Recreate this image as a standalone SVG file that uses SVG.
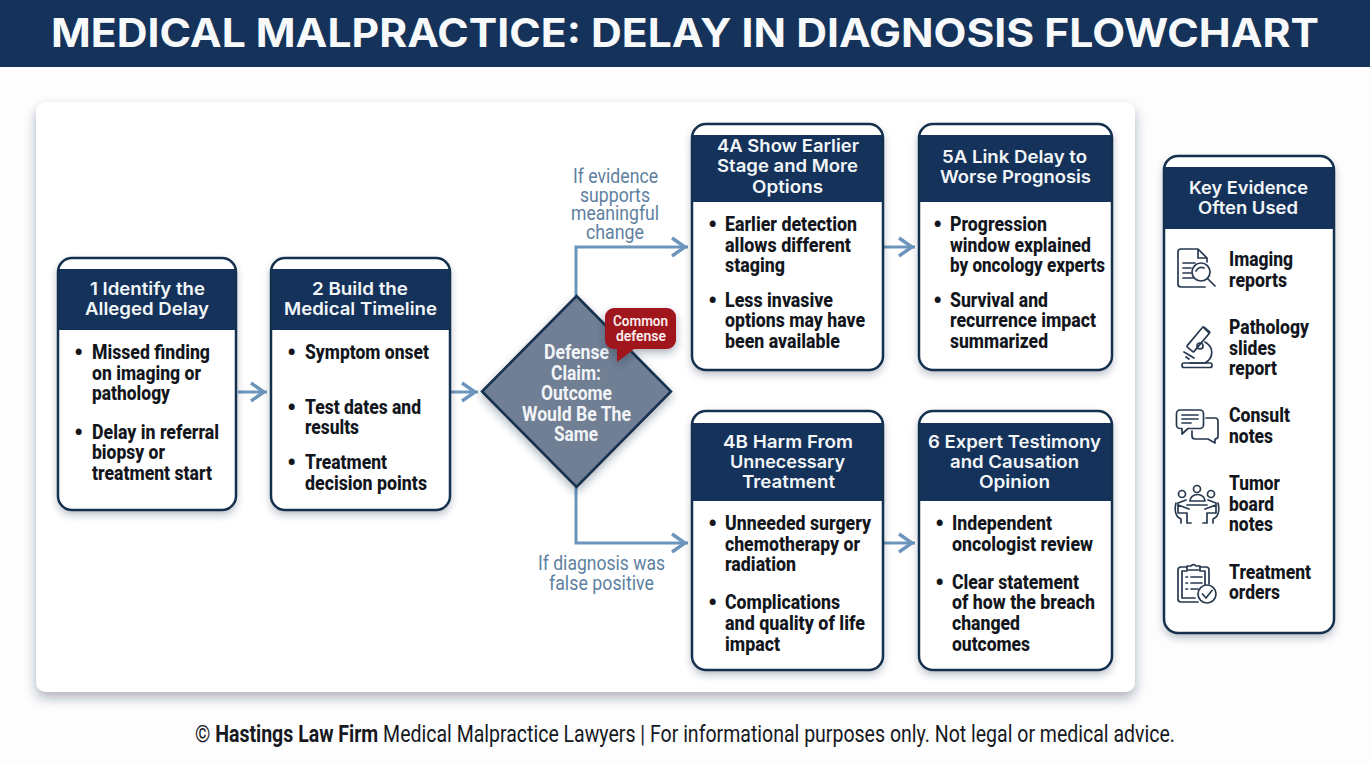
<svg xmlns="http://www.w3.org/2000/svg" width="1370" height="765" viewBox="0 0 1370 765">
<style>
text{font-family:"Roboto","Liberation Sans",sans-serif}
.h{font-family:"Inter","Noto Sans",sans-serif;font-weight:600;font-size:17.5px;fill:#f3f6f9}
.b{font-weight:800;font-size:21px;fill:#12161c}
text.b:not([textLength]){font-size:25px;transform:translate(-1px,2px)}
.d{font-weight:700;font-size:20.5px;fill:#f2f4f7}
.l{font-weight:400;font-size:21px;fill:#5e7f9f}
.c{font-weight:600;font-size:15.5px;fill:#fbecec}
.box{fill:#fff;stroke:none;filter:url(#sh)}
.edge{fill:none;stroke:#14304f;stroke-width:2.5}
.hd{fill:#15335a}
.cn{fill:none;stroke:#6d95bb;stroke-width:3;marker-end:url(#ar)}
.ic{fill:none;stroke:#27394f;stroke-width:1.7;stroke-linecap:round;stroke-linejoin:round}
</style>
<defs>
<filter id="sh" x="-15%" y="-15%" width="130%" height="130%"><feDropShadow dx="0" dy="4" stdDeviation="4" flood-color="#1c2c40" flood-opacity=".35"/></filter>
<filter id="sp" x="-5%" y="-5%" width="110%" height="110%"><feDropShadow dx="0" dy="6" stdDeviation="6" flood-color="#1c2c40" flood-opacity=".35"/></filter>
<marker id="ar" markerUnits="userSpaceOnUse" markerWidth="20" markerHeight="24" viewBox="0 0 20 24" refX="18" refY="12" orient="auto"><path d="M2,3 L15,12 L2,21" fill="none" stroke="#6d95bb" stroke-width="3.4"/></marker>
</defs>
<rect width="1370" height="765" fill="#fdfdfe"/>
<g id="banner"><rect width="1370" height="67" fill="#15335a"/>
<text x="51" y="47" textLength="1268" lengthAdjust="spacingAndGlyphs" style="font-family:Inter,'Noto Sans',sans-serif;font-weight:700;font-size:39px;fill:#f7f9fb">MEDICAL MALPRACTICE: DELAY IN DIAGNOSIS FLOWCHART</text></g>
<rect id="panel" x="36" y="102" width="1099" height="590" rx="10" fill="#fff" filter="url(#sp)"/>

<g id="connectors">
<path class="cn" d="M238,392H267"/>
<path class="cn" d="M451,392H478"/>
<path class="cn" d="M576,296V247H688"/>
<path class="cn" d="M576,487V543H688"/>
<path class="cn" d="M884,247H915"/>
<path class="cn" d="M884,543H915"/>
<text class="l" x="573" y="183" textLength="85" lengthAdjust="spacingAndGlyphs">If evidence</text>
<text class="l" x="580" y="202" textLength="70" lengthAdjust="spacingAndGlyphs">supports</text>
<text class="l" x="571" y="220" textLength="88" lengthAdjust="spacingAndGlyphs">meaningful</text>
<text class="l" x="586" y="239" textLength="58" lengthAdjust="spacingAndGlyphs">change</text>
<text class="l" x="538" y="570" textLength="127" lengthAdjust="spacingAndGlyphs">If diagnosis was</text>
<text class="l" x="549" y="590" textLength="105" lengthAdjust="spacingAndGlyphs">false positive</text>
</g>

<g id="node1"><rect class="box" x="58" y="258" width="178" height="252" rx="14"/><rect class="hd" x="58" y="269" width="178" height="61"/><rect class="edge" x="58" y="258" width="178" height="252" rx="14"/>
<text class="h" x="90" y="294.500" textLength="115" lengthAdjust="spacingAndGlyphs">1 Identify the</text>
<text class="h" x="85" y="315" textLength="124" lengthAdjust="spacingAndGlyphs">Alleged Delay</text>
<text class="b" x="75" y="359">•</text>
<text class="b" x="92" y="359" textLength="118" lengthAdjust="spacingAndGlyphs">Missed finding</text>
<text class="b" x="92" y="380" textLength="109" lengthAdjust="spacingAndGlyphs">on imaging or</text>
<text class="b" x="92" y="400" textLength="78" lengthAdjust="spacingAndGlyphs">pathology</text>
<text class="b" x="75" y="439">•</text>
<text class="b" x="92" y="439" textLength="127" lengthAdjust="spacingAndGlyphs">Delay in referral</text>
<text class="b" x="92" y="459" textLength="73" lengthAdjust="spacingAndGlyphs">biopsy or</text>
<text class="b" x="92" y="480" textLength="120" lengthAdjust="spacingAndGlyphs">treatment start</text></g>

<g id="node2"><rect class="box" x="271" y="258" width="179" height="252" rx="14"/><rect class="hd" x="271" y="269" width="179" height="61"/><rect class="edge" x="271" y="258" width="179" height="252" rx="14"/>
<text class="h" x="312" y="294.500" textLength="96" lengthAdjust="spacingAndGlyphs">2 Build the</text>
<text class="h" x="284" y="315" textLength="153" lengthAdjust="spacingAndGlyphs">Medical Timeline</text>
<text class="b" x="288" y="359">•</text>
<text class="b" x="305" y="359" textLength="124" lengthAdjust="spacingAndGlyphs">Symptom onset</text>
<text class="b" x="288" y="414">•</text>
<text class="b" x="305" y="414" textLength="116" lengthAdjust="spacingAndGlyphs">Test dates and</text>
<text class="b" x="305" y="434" textLength="54" lengthAdjust="spacingAndGlyphs">results</text>
<text class="b" x="288" y="469">•</text>
<text class="b" x="305" y="469" textLength="82" lengthAdjust="spacingAndGlyphs">Treatment</text>
<text class="b" x="305" y="490" textLength="122" lengthAdjust="spacingAndGlyphs">decision points</text></g>

<g id="node3"><polygon points="576.5,296 671,391.5 576.5,487 482,391.5" fill="#6f7f94" stroke="#14304f" stroke-width="2.5" filter="url(#sh)"/>
<text class="d" x="544" y="359" textLength="65" lengthAdjust="spacingAndGlyphs">Defense</text>
<text class="d" x="551" y="380" textLength="50" lengthAdjust="spacingAndGlyphs">Claim:</text>
<text class="d" x="541" y="400" textLength="71" lengthAdjust="spacingAndGlyphs">Outcome</text>
<text class="d" x="522" y="421" textLength="109" lengthAdjust="spacingAndGlyphs">Would Be The</text>
<text class="d" x="554" y="441" textLength="44" lengthAdjust="spacingAndGlyphs">Same</text></g>

<g id="callout"><path d="M614,308H667a9,9 0 0 1 9,9V340a9,9 0 0 1-9,9H634L617,362V349H614a9,9 0 0 1-9-9V317a9,9 0 0 1 9-9Z" fill="#a0121a" filter="url(#sh)"/>
<text class="c" x="613" y="326" textLength="55" lengthAdjust="spacingAndGlyphs">Common</text>
<text class="c" x="616" y="341" textLength="50" lengthAdjust="spacingAndGlyphs">defense</text></g>

<g id="node4a"><rect class="box" x="692" y="124" width="191" height="246" rx="14"/><rect class="hd" x="692" y="135" width="191" height="67"/><rect class="edge" x="692" y="124" width="191" height="246" rx="14"/>
<text class="h" x="717" y="152" textLength="142" lengthAdjust="spacingAndGlyphs">4A Show Earlier</text>
<text class="h" x="717" y="172" textLength="141" lengthAdjust="spacingAndGlyphs">Stage and More</text>
<text class="h" x="752" y="192.500" textLength="71" lengthAdjust="spacingAndGlyphs">Options</text>
<text class="b" x="709" y="231">•</text>
<text class="b" x="725" y="231" textLength="132" lengthAdjust="spacingAndGlyphs">Earlier detection</text>
<text class="b" x="725" y="252" textLength="126" lengthAdjust="spacingAndGlyphs">allows different</text>
<text class="b" x="725" y="272" textLength="60" lengthAdjust="spacingAndGlyphs">staging</text>
<text class="b" x="709" y="307">•</text>
<text class="b" x="725" y="307" textLength="108" lengthAdjust="spacingAndGlyphs">Less invasive</text>
<text class="b" x="725" y="327" textLength="140" lengthAdjust="spacingAndGlyphs">options may have</text>
<text class="b" x="725" y="348" textLength="115" lengthAdjust="spacingAndGlyphs">been available</text></g>

<g id="node5a"><rect class="box" x="919" y="124" width="193" height="246" rx="14"/><rect class="hd" x="919" y="135" width="193" height="67"/><rect class="edge" x="919" y="124" width="193" height="246" rx="14"/>
<text class="h" x="942" y="162.500" textLength="145" lengthAdjust="spacingAndGlyphs">5A Link Delay to</text>
<text class="h" x="940" y="182.500" textLength="151" lengthAdjust="spacingAndGlyphs">Worse Prognosis</text>
<text class="b" x="934" y="231">•</text>
<text class="b" x="950" y="231" textLength="97" lengthAdjust="spacingAndGlyphs">Progression</text>
<text class="b" x="950" y="252" textLength="141" lengthAdjust="spacingAndGlyphs">window explained</text>
<text class="b" x="950" y="272" textLength="155" lengthAdjust="spacingAndGlyphs">by oncology experts</text>
<text class="b" x="934" y="307">•</text>
<text class="b" x="950" y="307" textLength="98" lengthAdjust="spacingAndGlyphs">Survival and</text>
<text class="b" x="950" y="327" textLength="146" lengthAdjust="spacingAndGlyphs">recurrence impact</text>
<text class="b" x="950" y="348" textLength="98" lengthAdjust="spacingAndGlyphs">summarized</text></g>

<g id="node4b"><rect class="box" x="692" y="411" width="191" height="259" rx="14"/><rect class="hd" x="692" y="423" width="191" height="78"/><rect class="edge" x="692" y="411" width="191" height="259" rx="14"/>
<text class="h" x="723" y="447.500" textLength="130" lengthAdjust="spacingAndGlyphs">4B Harm From</text>
<text class="h" x="730" y="467.500" textLength="115" lengthAdjust="spacingAndGlyphs">Unnecessary</text>
<text class="h" x="742" y="487.500" textLength="93" lengthAdjust="spacingAndGlyphs">Treatment</text>
<text class="b" x="709" y="530">•</text>
<text class="b" x="725" y="530" textLength="146" lengthAdjust="spacingAndGlyphs">Unneeded surgery</text>
<text class="b" x="725" y="551" textLength="135" lengthAdjust="spacingAndGlyphs">chemotherapy or</text>
<text class="b" x="725" y="571" textLength="71" lengthAdjust="spacingAndGlyphs">radiation</text>
<text class="b" x="709" y="609">•</text>
<text class="b" x="725" y="609" textLength="115" lengthAdjust="spacingAndGlyphs">Complications</text>
<text class="b" x="725" y="630" textLength="140" lengthAdjust="spacingAndGlyphs">and quality of life</text>
<text class="b" x="725" y="651" textLength="55" lengthAdjust="spacingAndGlyphs">impact</text></g>

<g id="node6"><rect class="box" x="919" y="411" width="193" height="259" rx="14"/><rect class="hd" x="919" y="423" width="193" height="78"/><rect class="edge" x="919" y="411" width="193" height="259" rx="14"/>
<text class="h" x="928" y="447.500" textLength="173" lengthAdjust="spacingAndGlyphs">6 Expert Testimony</text>
<text class="h" x="950" y="467.500" textLength="129" lengthAdjust="spacingAndGlyphs">and Causation</text>
<text class="h" x="979" y="487.500" textLength="71" lengthAdjust="spacingAndGlyphs">Opinion</text>
<text class="b" x="936" y="530">•</text>
<text class="b" x="952" y="530" textLength="100" lengthAdjust="spacingAndGlyphs">Independent</text>
<text class="b" x="952" y="551" textLength="141" lengthAdjust="spacingAndGlyphs">oncologist review</text>
<text class="b" x="936" y="589">•</text>
<text class="b" x="952" y="589" textLength="127" lengthAdjust="spacingAndGlyphs">Clear statement</text>
<text class="b" x="952" y="609" textLength="143" lengthAdjust="spacingAndGlyphs">of how the breach</text>
<text class="b" x="952" y="630" textLength="68" lengthAdjust="spacingAndGlyphs">changed</text>
<text class="b" x="952" y="651" textLength="78" lengthAdjust="spacingAndGlyphs">outcomes</text></g>

<g id="evidence"><rect class="box" x="1164" y="156" width="170" height="477" rx="14"/><rect class="hd" x="1164" y="167" width="170" height="62"/><rect class="edge" x="1164" y="156" width="170" height="477" rx="14"/>
<text class="h" x="1189" y="193.500" textLength="119" lengthAdjust="spacingAndGlyphs">Key Evidence</text>
<text class="h" x="1198" y="213.500" textLength="100" lengthAdjust="spacingAndGlyphs">Often Used</text>
<g class="ic">
<path d="M1205,287H1181a3,3 0 0 1-3-3V252a3,3 0 0 1 3-3H1198L1207,258V262M1198,249V258H1207"/>
<path d="M1183,263H1195M1183,268H1191M1183,273H1191M1183,278H1193"/>
<circle cx="1201" cy="272" r="9"/><path d="M1207.500,278.500L1215,286M1196,271a6,6 0 0 1 8-3"/>
</g>
<text class="b" x="1229" y="266" textLength="64" lengthAdjust="spacingAndGlyphs">Imaging</text>
<text class="b" x="1229" y="286.500" textLength="58" lengthAdjust="spacingAndGlyphs">reports</text>
<g class="ic">
<rect x="1182" y="363" width="30" height="4.500" rx="2"/>
<rect x="1194" y="326" width="9" height="26" rx="1" transform="rotate(40 1198 339)"/>
<path d="M1204,328L1209,333M1205,342C1214,347 1214,358 1205,363M1190,363H1205"/>
<circle cx="1200" cy="346" r="3"/>
<path d="M1184,352L1194,358M1186,357L1189,359"/>
</g>
<text class="b" x="1229" y="333.500" textLength="80" lengthAdjust="spacingAndGlyphs">Pathology</text>
<text class="b" x="1229" y="354.500" textLength="47" lengthAdjust="spacingAndGlyphs">slides</text>
<text class="b" x="1229" y="374.500" textLength="48" lengthAdjust="spacingAndGlyphs">report</text>
<g class="ic">
<path d="M1180,410H1200a3.500,3.500 0 0 1 3.500,3.500V425a3.500,3.500 0 0 1-3.500,3.500H1188L1182,434V428.500H1180a3.500,3.500 0 0 1-3.500-3.500V413.500a3.500,3.500 0 0 1 3.500-3.500Z"/>
<path d="M1182,415H1198M1182,419H1198M1182,423H1191"/>
<path d="M1206,418H1215a3,3 0 0 1 3,3V436a3,3 0 0 1-3,3V443L1208,439H1195a3,3 0 0 1-3-3V431"/>
</g>
<text class="b" x="1229" y="422" textLength="61" lengthAdjust="spacingAndGlyphs">Consult</text>
<text class="b" x="1229" y="442.500" textLength="44" lengthAdjust="spacingAndGlyphs">notes</text>
<g class="ic">
<circle cx="1197" cy="489" r="3.500"/><circle cx="1182" cy="494" r="3.500"/><circle cx="1211" cy="494" r="3.500"/>
<path d="M1190,501a7.500,6.500 0 0 1 15,0ZM1187,505H1207"/>
<path d="M1176,503C1174,511 1176,517 1181,519V523M1186,500L1178,503V513H1187V523H1191M1178,505L1189,509"/>
<path d="M1218,503C1220,511 1218,517 1213,519V523M1208,500L1216,503V513H1207V523H1203M1216,505L1205,509"/>
</g>
<text class="b" x="1229" y="489.500" textLength="51" lengthAdjust="spacingAndGlyphs">Tumor</text>
<text class="b" x="1229" y="510.500" textLength="45" lengthAdjust="spacingAndGlyphs">board</text>
<text class="b" x="1229" y="531" textLength="44" lengthAdjust="spacingAndGlyphs">notes</text>
<g class="ic">
<path d="M1198,602H1181a3,3 0 0 1-3-3V570a3,3 0 0 1 3-3H1187M1200,567H1206a3,3 0 0 1 3,3V584"/>
<path d="M1195,598H1182V571H1187M1200,571H1205V585"/>
<path d="M1187,570V566H1191a3,3 0 0 1 5,0H1200V570Z"/>
<path d="M1186,577H1187.500M1191,577H1202M1186,583H1187.500M1191,583H1202M1186,589H1187.500M1191,589H1198"/>
<circle cx="1207" cy="594" r="9" fill="#fff"/><path d="M1202.500,594L1206,598L1212,590.500"/>
</g>
<text class="b" x="1229" y="578.500" textLength="82" lengthAdjust="spacingAndGlyphs">Treatment</text>
<text class="b" x="1229" y="598.500" textLength="51" lengthAdjust="spacingAndGlyphs">orders</text></g>

<text id="footer" x="195" y="742" textLength="980" lengthAdjust="spacingAndGlyphs" style="font-size:23px;fill:#16191e">© <tspan font-weight="700">Hastings Law Firm</tspan> Medical Malpractice Lawyers | For informational purposes only. Not legal or medical advice.</text>
</svg>
